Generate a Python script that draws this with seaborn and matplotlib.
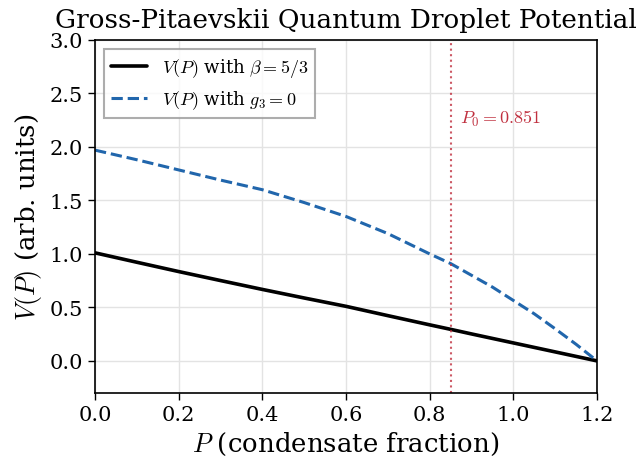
import numpy as np
import pandas as pd
import matplotlib
matplotlib.use("Agg")
import matplotlib.pyplot as plt
import seaborn as sns

# Data
P_vals = [0.0, 0.1, 0.2, 0.3, 0.4, 0.5, 0.6, 0.7, 0.8, 0.85, 0.9, 0.95, 1.0, 1.05, 1.1, 1.15, 1.2]
V_beta = [1.01, 0.922, 0.835, 0.751, 0.668, 0.588, 0.51, 0.423, 0.337, 0.295, 0.252, 0.21, 0.168, 0.126, 0.084, 0.042, 0.0]
V_g3 = [1.97, 1.88, 1.785, 1.69, 1.60, 1.48, 1.35, 1.19, 1.0, 0.91, 0.80, 0.69, 0.565, 0.44, 0.30, 0.155, 0.0]
P0 = 0.851
label_beta = r"$V(P)$ with $\beta = 5/3$"
label_g3 = r"$V(P)$ with $g_3 = 0$"
xticks = [0.0, 0.2, 0.4, 0.6, 0.8, 1.0, 1.2]
yticks = [0.0, 0.5, 1.0, 1.5, 2.0, 2.5, 3.0]

sns.set_theme(style="whitegrid")
plt.rcParams["font.family"] = ["DejaVu Serif"]
plt.rcParams["mathtext.fontset"] = "cm"
plt.rcParams["text.color"] = "black"
plt.rcParams["axes.labelcolor"] = "black"
plt.rcParams["xtick.color"] = "black"
plt.rcParams["ytick.color"] = "black"

df = pd.DataFrame({"P": P_vals, "beta": V_beta, "g3": V_g3})

fig = plt.figure(figsize=(6.39, 4.6), dpi=100)
ax = fig.add_axes([0.1487, 0.1435, 0.7856, 0.7675])

sns.lineplot(data=df, x="P", y="beta", ax=ax, color="black", linewidth=2.6, label=label_beta)
sns.lineplot(data=df, x="P", y="g3", ax=ax, color="#2166ac", linewidth=2.2, linestyle="--", label=label_g3)
ax.axvline(P0, color="#c0303f", linestyle=":", linewidth=1.5, alpha=0.8)
ax.text(P0 + 0.022, 2.27, r"$P_0 = 0.851$", color="#c0303f", fontsize=13, va="center", ha="left")

ax.set_xlim(0, 1.2)
ax.set_ylim(-0.3, 3.0)
ax.set_xticks(xticks)
ax.set_yticks(yticks)
ax.set_xlabel(r"$P$ (condensate fraction)", fontsize=18.7, color="black")
ax.set_ylabel(r"$V(P)$ (arb. units)", fontsize=18.7, color="black")
ax.set_title("Gross-Pitaevskii Quantum Droplet Potential", fontsize=18.9, color="black", pad=9)
ax.tick_params(axis="both", labelsize=15, direction="out", length=5, width=1,
               color="black", labelcolor="black", left=True, bottom=True)
for s in ax.spines.values():
    s.set_color("black")
    s.set_linewidth(1.2)
ax.grid(True, color="#e3e3e3", linewidth=1.0)

leg = ax.legend(loc="upper left", fontsize=13, fancybox=False, frameon=True)
leg.get_frame().set_edgecolor("#999999")
leg.get_frame().set_linewidth(1.5)
for t in leg.get_texts():
    t.set_color("black")

fig.savefig("out.png", dpi=100)
